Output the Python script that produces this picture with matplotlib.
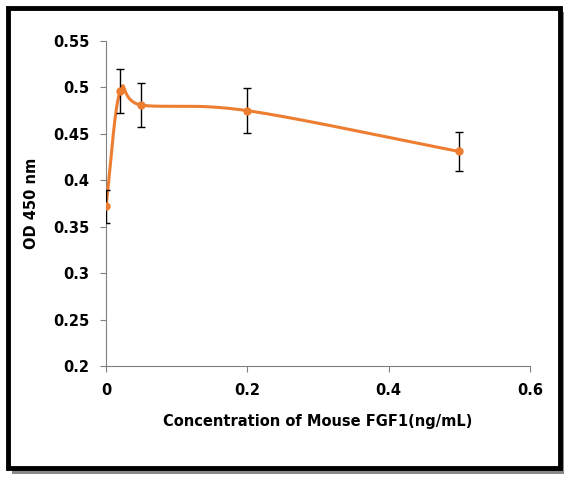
import matplotlib
matplotlib.use("Agg")
import matplotlib.pyplot as plt
import numpy as np
from matplotlib.patches import Rectangle

conc = [0, 0.02, 0.05, 0.2, 0.5]
od = [0.372, 0.496, 0.481, 0.475, 0.431]
err = [0.018, 0.024, 0.024, 0.024, 0.021]
xticks = [0, 0.2, 0.4, 0.6]
yticks = [0.2, 0.25, 0.3, 0.35, 0.4, 0.45, 0.5, 0.55]

def catmull(x, y, n=40):
    x = np.asarray(x, float); y = np.asarray(y, float)
    px = np.concatenate([[2*x[0]-x[1]], x, [2*x[-1]-x[-2]]])
    py = np.concatenate([[2*y[0]-y[1]], y, [2*y[-1]-y[-2]]])
    xs, ys = [], []
    for i in range(1, len(px)-2):
        t = np.linspace(0, 1, n)
        for p, out in ((px, xs), (py, ys)):
            p0, p1, p2, p3 = p[i-1], p[i], p[i+1], p[i+2]
            out.extend(0.5*((2*p1) + (-p0+p2)*t + (2*p0-5*p1+4*p2-p3)*t**2 + (-p0+3*p1-3*p2+p3)*t**3))
    return xs, ys

W, H = 574, 482
fig = plt.figure(figsize=(W/100, H/100), dpi=100)
fig.patches.append(Rectangle((12/W, 1-474/H), 552/W, 462/H, transform=fig.transFigure,
                             facecolor="#888888", edgecolor="none", zorder=-3))
fig.patches.append(Rectangle((8/W, 1-468/H), 552/W, 460/H, transform=fig.transFigure,
                             facecolor="white", edgecolor="black", linewidth=3.5, zorder=-2))

ax = fig.add_axes([106/W, 1-366/H, 424/W, 325/H])
ax.set_zorder(1)
ax.set_facecolor("none")
col = "#ED7D31"
sx, sy = catmull(conc, od)
ax.plot(sx, sy, color=col, lw=2.2, zorder=3)
ax.errorbar(conc, od, yerr=err, fmt="o", color=col, ms=5, ecolor="black",
            elinewidth=1, capsize=3, zorder=4)
ax.set_xlim(0, 0.6); ax.set_ylim(0.2, 0.55)
ax.set_xticks(xticks); ax.set_xticklabels(["0", "0.2", "0.4", "0.6"])
ax.set_yticks(yticks); ax.set_yticklabels(["0.2", "0.25", "0.3", "0.35", "0.4", "0.45", "0.5", "0.55"])
for s in ("top", "right"):
    ax.spines[s].set_visible(False)
for s in ("left", "bottom"):
    ax.spines[s].set_color("#808080")
ax.tick_params(direction="out", length=4, color="#808080", labelsize=10.5, pad=8)
for lab in ax.get_xticklabels() + ax.get_yticklabels():
    lab.set_fontweight("bold")
ax.set_xlabel("Concentration of Mouse FGF1(ng/mL)", fontsize=10.5, fontweight="bold", labelpad=12)
ax.set_ylabel("OD 450 nm", fontsize=10.5, fontweight="bold", labelpad=10)
fig.savefig("out.png", dpi=100)
